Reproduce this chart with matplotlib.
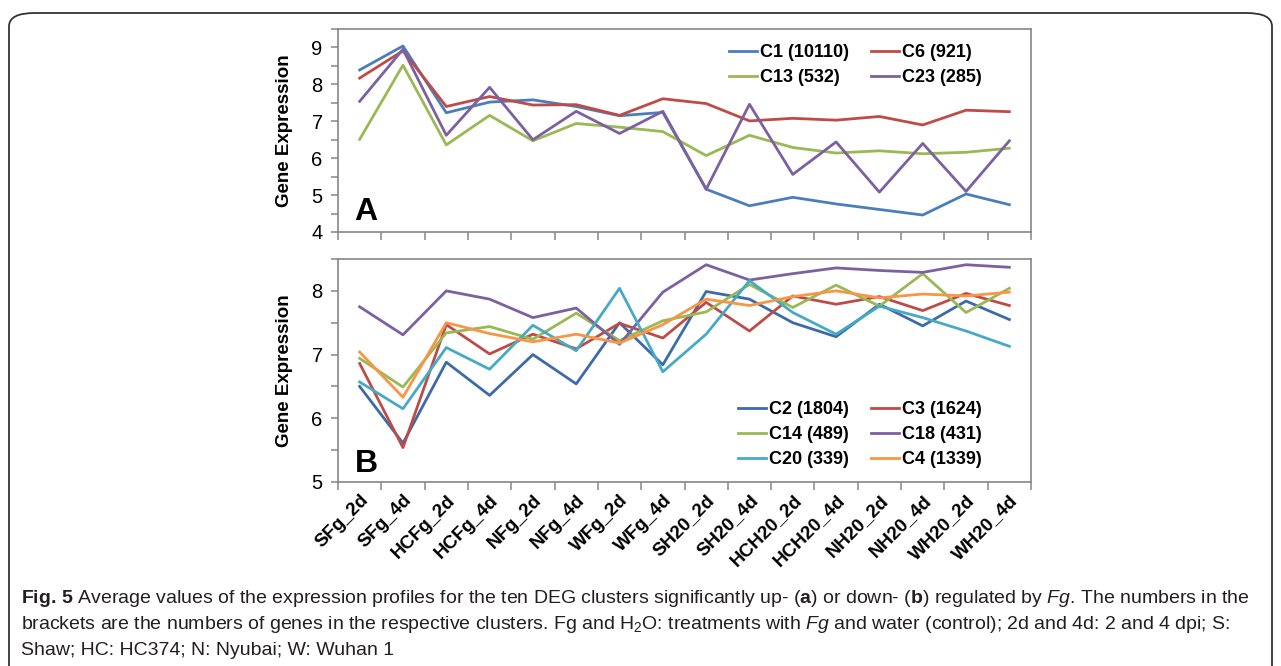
import numpy as np
import matplotlib
matplotlib.use("Agg")
import matplotlib.pyplot as plt
from matplotlib.patches import FancyBboxPatch
from matplotlib.ticker import MultipleLocator, FixedLocator

samples = ["SFg_2d", "SFg_4d", "HCFg_2d", "HCFg_4d", "NFg_2d", "NFg_4d", "WFg_2d", "WFg_4d",
           "SH20_2d", "SH20_4d", "HCH20_2d", "HCH20_4d", "NH20_2d", "NH20_4d", "WH20_2d", "WH20_4d"]

# (A) clusters up-regulated by Fg
c1 = [8.39, 9.04, 7.23, 7.52, 7.58, 7.40, 7.15, 7.24, 5.16, 4.71, 4.94, 4.76, 4.61, 4.46, 5.03, 4.74]
c6 = [8.17, 8.91, 7.40, 7.67, 7.44, 7.45, 7.16, 7.61, 7.48, 7.01, 7.08, 7.03, 7.13, 6.90, 7.30, 7.26]
c13 = [6.51, 8.52, 6.36, 7.16, 6.47, 6.94, 6.84, 6.72, 6.07, 6.62, 6.29, 6.14, 6.20, 6.12, 6.16, 6.27]
c23 = [7.54, 8.95, 6.62, 7.92, 6.50, 7.27, 6.67, 7.27, 5.16, 7.46, 5.56, 6.44, 5.08, 6.40, 5.10, 6.47]

# (B) clusters down-regulated by Fg
c2 = [6.50, 5.61, 6.88, 6.36, 7.00, 6.54, 7.50, 6.84, 7.99, 7.87, 7.50, 7.28, 7.79, 7.45, 7.84, 7.55]
c3 = [6.86, 5.54, 7.47, 7.01, 7.32, 7.09, 7.49, 7.26, 7.82, 7.37, 7.92, 7.79, 7.91, 7.69, 7.96, 7.77]
c14 = [6.94, 6.49, 7.34, 7.44, 7.24, 7.65, 7.22, 7.53, 7.67, 8.10, 7.74, 8.09, 7.76, 8.27, 7.66, 8.04]
c18 = [7.75, 7.31, 8.00, 7.87, 7.58, 7.73, 7.16, 7.98, 8.41, 8.17, 8.27, 8.36, 8.32, 8.29, 8.41, 8.37]
c20 = [6.57, 6.15, 7.11, 6.77, 7.46, 7.06, 8.04, 6.73, 7.32, 8.16, 7.66, 7.32, 7.76, 7.58, 7.37, 7.13]
c4 = [7.04, 6.33, 7.50, 7.33, 7.20, 7.32, 7.18, 7.47, 7.87, 7.77, 7.91, 8.00, 7.89, 7.95, 7.92, 7.98]

labels_a = ["C1 (10110)", "C6 (921)", "C13 (532)", "C23 (285)"]
labels_b = ["C2 (1804)", "C3 (1624)", "C14 (489)", "C18 (431)", "C20 (339)", "C4 (1339)"]

BLUE_A = "#4a7ebb"
BLUE_B = "#3d6aa8"
RED = "#be4b48"
GREEN = "#98b954"
PURPLE = "#7d60a0"
CYAN = "#46aac5"
ORANGE = "#f79646"
SPINE = "#868686"

plt.rcParams["font.family"] = ["Liberation Sans", "DejaVu Sans"]
plt.rcParams["mathtext.fontset"] = "custom"
plt.rcParams["mathtext.rm"] = "Liberation Sans"
plt.rcParams["mathtext.it"] = "Liberation Sans:italic"
plt.rcParams["mathtext.bf"] = "Liberation Sans:bold"

W, H = 1281, 666
fig = plt.figure(figsize=(W / 100, H / 100), dpi=100)

# rounded frame around the figure + caption
frame = FancyBboxPatch((9 / W, -0.05), 1263 / W, 1 - 13 / H + 0.05,
                       boxstyle="round,pad=0,rounding_size=0.02",
                       transform=fig.transFigure, fill=False,
                       edgecolor="#333333", linewidth=1.3)
fig.patches.append(frame)


def make_axes(top, bottom):
    left, right = 338, 1031
    return fig.add_axes([left / W, 1 - bottom / H, (right - left) / W, (bottom - top) / H])


def style_axes(ax, ylo, yhi, show_xlabels):
    x = np.arange(len(samples))
    ax.set_xlim(-0.5, len(samples) - 0.5)
    ax.set_ylim(ylo, yhi)
    for sp in ax.spines.values():
        sp.set_color(SPINE)
        sp.set_linewidth(1.2)
    # category boundaries carry the tick marks, labels sit between them
    ax.xaxis.set_major_locator(FixedLocator(np.arange(-0.5, len(samples), 1.0)))
    ax.xaxis.set_minor_locator(FixedLocator(x))
    ax.tick_params(axis="x", which="major", length=6, width=1.1, color=SPINE, labelbottom=False)
    ax.tick_params(axis="x", which="minor", length=0, pad=7)
    if show_xlabels:
        ax.set_xticks(x, samples, minor=True)
        for t in ax.get_xticklabels(minor=True):
            t.set_rotation(45)
            t.set_ha("right")
            t.set_va("top")
            t.set_rotation_mode("anchor")
            t.set_fontweight("bold")
            t.set_fontsize(13.5)
    ax.yaxis.set_major_locator(MultipleLocator(1))
    ax.yaxis.set_minor_locator(MultipleLocator(0.5))
    ax.tick_params(axis="y", which="both", length=5, width=1.1, color=SPINE, labelsize=14.5, pad=6)
    ax.set_ylabel("Gene Expression", fontsize=13.5, fontweight="bold", labelpad=13)


lw = 2.0
leg_kw = dict(ncol=2, frameon=False, prop={"weight": "bold", "size": 13},
              handlelength=1.55, handletextpad=0.2, columnspacing=1.2,
              labelspacing=0.45, borderaxespad=0, borderpad=0.4)

# Panel A
axA = make_axes(29, 232)
la1, = axA.plot(c1, color=BLUE_A, lw=lw)
la6, = axA.plot(c6, color=RED, lw=lw)
la13, = axA.plot(c13, color=GREEN, lw=lw)
la23, = axA.plot(c23, color=PURPLE, lw=lw)
style_axes(axA, 4, 9.5, False)
axA.legend([la1, la13, la6, la23], [labels_a[0], labels_a[2], labels_a[1], labels_a[3]],
           loc="upper right", bbox_to_anchor=(0.94, 0.96), **leg_kw)
axA.text(0.024, 0.06, "A", transform=axA.transAxes, fontsize=23, fontweight="bold")

# Panel B
axB = make_axes(259, 482)
lb2, = axB.plot(c2, color=BLUE_B, lw=lw)
lb3, = axB.plot(c3, color=RED, lw=lw)
lb14, = axB.plot(c14, color=GREEN, lw=lw)
lb18, = axB.plot(c18, color=PURPLE, lw=lw)
lb20, = axB.plot(c20, color=CYAN, lw=lw)
lb4, = axB.plot(c4, color=ORANGE, lw=lw)
style_axes(axB, 5, 8.5, True)
axB.legend([lb2, lb14, lb20, lb3, lb18, lb4],
           [labels_b[0], labels_b[2], labels_b[4], labels_b[1], labels_b[3], labels_b[5]],
           loc="lower right", bbox_to_anchor=(0.94, 0.03), **leg_kw)
axB.text(0.024, 0.045, "B", transform=axB.transAxes, fontsize=23, fontweight="bold")

# caption
cap = [
    r"$\mathbf{Fig.\,5}$ Average values of the expression profiles for the ten DEG clusters significantly up- "
    r"($\mathbf{a}$) or down- ($\mathbf{b}$) regulated by $\mathit{Fg}$. The numbers in the",
    r"brackets are the numbers of genes in the respective clusters. Fg and H$_2$O: treatments with "
    r"$\mathit{Fg}$ and water (control); 2d and 4d: 2 and 4 dpi; S:",
    r"Shaw; HC: HC374; N: Nyubai; W: Wuhan 1",
]
for i, line in enumerate(cap):
    fig.text(21 / W, 1 - (603 + 26 * i) / H, line, fontsize=14, color="#231f20", va="baseline")

fig.savefig("out.png", dpi=100)
